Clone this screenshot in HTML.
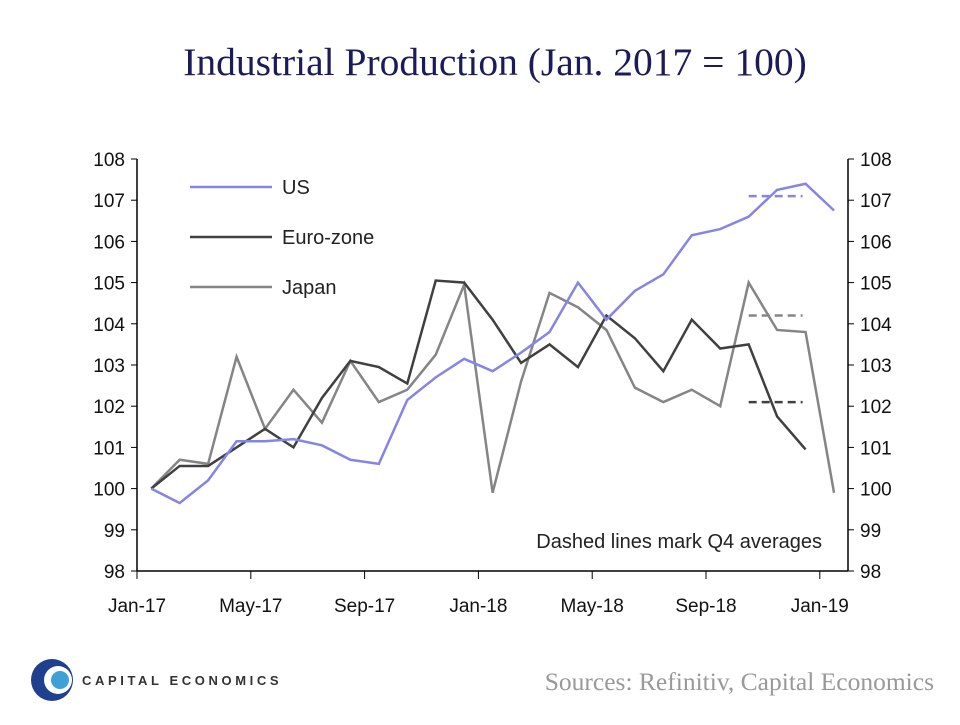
<!DOCTYPE html>
<html><head><meta charset="utf-8"><style>
body{margin:0;background:#fff;}
svg text{font-family:"Liberation Serif",serif;}
svg text.s{font-family:"Liberation Sans",sans-serif;}
</style></head><body>
<svg width="960" height="720" xmlns="http://www.w3.org/2000/svg">
<text x="495" y="75" text-anchor="middle" font-size="39.5" fill="#1b1b5a">Industrial Production (Jan. 2017 = 100)</text>
<g id="axes"></g>
<g id="series"></g>
<g>
<line x1="190" y1="187" x2="272" y2="187" stroke="#8585e6" stroke-width="2.5"/>
<text class="s" x="282" y="194" font-size="20" fill="#222">US</text>
<line x1="190" y1="237" x2="272" y2="237" stroke="#404040" stroke-width="2.5"/>
<text class="s" x="282" y="244" font-size="20" fill="#222">Euro-zone</text>
<line x1="190" y1="287" x2="272" y2="287" stroke="#858585" stroke-width="2.5"/>
<text class="s" x="282" y="294" font-size="20" fill="#222">Japan</text>
</g>
<text class="s" x="822" y="548" text-anchor="end" font-size="20" fill="#222">Dashed lines  mark Q4 averages</text>
<g>
<circle cx="52" cy="680" r="21" fill="#1f3f8f"/>
<circle cx="58" cy="680" r="14" fill="#fff"/>
<circle cx="60" cy="680" r="9" fill="#3fa0d8"/>
<text class="s" x="82" y="685" font-size="13" font-weight="bold" letter-spacing="3.6" fill="#333">CAPITAL ECONOMICS</text>
</g>
<text x="934" y="690" text-anchor="end" font-size="25.5" fill="#999">Sources: Refinitiv, Capital Economics</text>
</svg>
<script>
const xLabels=["Jan-17","May-17","Sep-17","Jan-18","May-18","Sep-18","Jan-19"];
const yTicks=[98,99,100,101,102,103,104,105,106,107,108];
const usVals=[100,99.65,100.2,101.15,101.15,101.2,101.05,100.7,100.6,102.15,102.7,103.15,102.85,103.3,103.8,105.0,104.1,104.8,105.2,106.15,106.3,106.6,107.25,107.4,106.75];
const euroVals=[100,100.55,100.55,101.0,101.45,101.0,102.2,103.1,102.95,102.55,105.05,105.0,104.1,103.05,103.5,102.95,104.2,103.65,102.85,104.1,103.4,103.5,101.75,100.95];
const japanVals=[100,100.7,100.6,103.2,101.45,102.4,101.6,103.1,102.1,102.4,103.25,104.95,99.9,102.6,104.75,104.4,103.85,102.45,102.1,102.4,102.0,105.0,103.85,103.8,99.9];
const q4Avgs=[107.1,102.1,104.2];
const NS="http://www.w3.org/2000/svg";
const L=137,R=848,T=159,B=571,M=28.45;
const y=v=>B-(v-98)*(B-T)/10;
const x=i=>L+M*(i+0.5);
function mk(tag,attrs,parent,txt){const e=document.createElementNS(NS,tag);for(const k in attrs)e.setAttribute(k,attrs[k]);if(txt!=null)e.textContent=txt;parent.appendChild(e);return e;}
const ax=document.getElementById('axes');
let a=mk('line',{x1:L,y1:T,x2:L,y2:B,stroke:'#000','stroke-width':1.5},ax);


a=mk('line',{x1:R,y1:T,x2:R,y2:B,stroke:'#000','stroke-width':1.5},ax);


a=mk('line',{x1:L,y1:B,x2:R,y2:B,stroke:'#000','stroke-width':1.5},ax);


yTicks.forEach(v=>{
 mk('line',{x1:L-6,y1:y(v),x2:L,y2:y(v),stroke:'#000'},ax);
 mk('line',{x1:R,y1:y(v),x2:R+6,y2:y(v),stroke:'#000'},ax);
 let t=mk('text',{class:'s',x:L-12,y:y(v)+7,'text-anchor':'end','font-size':19,fill:'#111'},ax,v);
 
 
 t=mk('text',{class:'s',x:R+12,y:y(v)+7,'font-size':19,fill:'#111'},ax,v);
 
 
});
xLabels.forEach((lab,k)=>{
 const xx=L+k*4*M;
 mk('line',{x1:xx,y1:B,x2:xx,y2:B+8,stroke:'#000'},ax);
 const t=mk('text',{class:'s',x:xx,y:B+41,'text-anchor':'middle','font-size':19,fill:'#111'},ax,lab);
 
 
});
const sg=document.getElementById('series');
function line(vals,color,name){
 const p=mk('polyline',{points:vals.map((v,i)=>x(i)+','+y(v)).join(' '),fill:'none',stroke:color,'stroke-width':2.5},sg);
 
 
}
line(japanVals,'#858585','japan-line');
line(euroVals,'#404040','euro-zone-line');
line(usVals,'#8585e6','us-line');
const cols=['#8585e6','#404040','#858585'],names=['us-q4-average','euro-zone-q4-average','japan-q4-average'];
q4Avgs.forEach((v,k)=>{
 const d=mk('line',{x1:x(21),y1:y(v),x2:x(23)-3,y2:y(v),stroke:cols[k],'stroke-width':2.5,'stroke-dasharray':'8,5'},sg);
 
 
});
</script>
</body></html>
